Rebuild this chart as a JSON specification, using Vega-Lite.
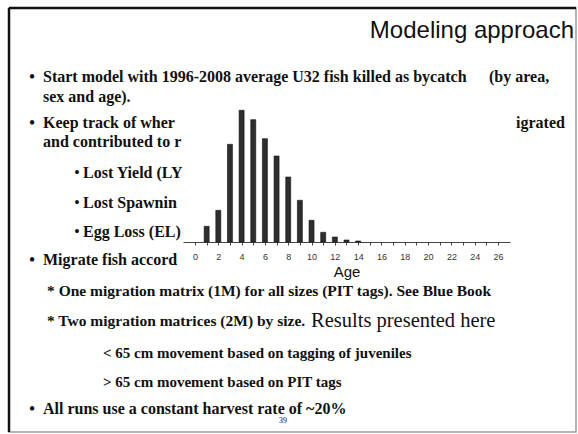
{
  "$schema": "https://vega.github.io/schema/vega-lite/v6.json",
  "width": 327,
  "height": 133,
  "autosize": "none",
  "padding": {"left": 183, "top": 109, "right": 68, "bottom": 192},
  "background": "white",
  "config": {"view": {"stroke": null}},
  "datasets": {
    "bycatch": [
      {"age": 1, "killed": 157},
      {"age": 2, "killed": 317},
      {"age": 3, "killed": 977},
      {"age": 4, "killed": 1317},
      {"age": 5, "killed": 1223},
      {"age": 6, "killed": 1033},
      {"age": 7, "killed": 860},
      {"age": 8, "killed": 650},
      {"age": 9, "killed": 417},
      {"age": 10, "killed": 217},
      {"age": 11, "killed": 97},
      {"age": 12, "killed": 50},
      {"age": 13, "killed": 20},
      {"age": 14, "killed": 10}
    ],
    "slide": [
      {"kind": "title", "text": "Modeling approach", "line": 0, "col": 8},
      {"kind": "bullet", "text": "Start model with 1996-2008 average U32 fish killed as bycatch", "line": 1, "col": 0},
      {"kind": "aside", "text": "(by area,", "line": 1, "col": 4},
      {"kind": "cont", "text": "sex and age).", "line": 2, "col": 0},
      {"kind": "bullet", "text": "Keep track of wher", "line": 3, "col": 0},
      {"kind": "aside", "text": "igrated", "line": 3, "col": 5},
      {"kind": "cont", "text": "and contributed to r", "line": 4, "col": 0},
      {"kind": "sub", "text": "Lost Yield (LY", "line": 5, "col": 1},
      {"kind": "sub", "text": "Lost Spawnin", "line": 6, "col": 1},
      {"kind": "sub", "text": "Egg Loss (EL)", "line": 7, "col": 1},
      {"kind": "bullet", "text": "Migrate fish accord", "line": 8, "col": 0},
      {"kind": "detail", "text": "* One migration matrix (1M) for all sizes (PIT tags). See Blue Book", "line": 9, "col": 2},
      {"kind": "detail", "text": "* Two migration matrices (2M) by size.", "line": 10, "col": 2},
      {"kind": "emph", "text": "Results presented here", "line": 10, "col": 6},
      {"kind": "deep", "text": "< 65 cm movement based on tagging of juveniles", "line": 11, "col": 3},
      {"kind": "deep", "text": "> 65 cm movement based on PIT tags", "line": 12, "col": 3},
      {"kind": "bullet", "text": "All runs use a constant harvest rate of ~20%", "line": 13, "col": 0},
      {"kind": "page", "text": "39", "line": 14, "col": 7}
    ]
  },
  "layer": [
    {
      "data": {"values": [{}]},
      "encoding": {
        "x": {"datum": 0, "type": "quantitative", "scale": {"domain": [0, 1], "range": [-174, 393], "nice": false, "zero": false}, "axis": null},
        "y": {"datum": 0, "type": "quantitative", "scale": {"domain": [0, 1], "range": [-101, 323], "nice": false, "zero": false}, "axis": null}
      },
      "layer": [
        {
          "mark": {"type": "rect", "filled": false, "stroke": "#9a9a9a", "strokeWidth": 1.5},
          "encoding": {"x2": {"datum": 1}, "y2": {"datum": 1}}
        },
        {
          "mark": {"type": "rule", "stroke": "#111", "strokeWidth": 2.5},
          "encoding": {"y2": {"datum": 1}}
        },
        {
          "mark": {"type": "rule", "stroke": "#111", "strokeWidth": 2.5},
          "encoding": {"x2": {"datum": 1}}
        }
      ]
    },
    {
      "data": {"name": "slide"},
      "encoding": {
        "x": {"field": "col", "type": "quantitative", "scale": {"domain": [0, 1, 2, 3, 4, 5, 6, 7, 8], "range": [-140, -100, -136, -80, 306, 333, 128, 100, 391], "nice": false, "zero": false}, "axis": null},
        "y": {"field": "line", "type": "quantitative", "scale": {"domain": [0, 1, 2, 3, 4, 5, 6, 7, 8, 9, 10, 11, 12, 13, 14], "range": [-78, -32, -12, 14, 33, 64, 94, 123, 151, 182, 212, 244, 273, 300, 312], "nice": false, "zero": false}, "axis": null},
        "text": {"field": "text"}
      },
      "layer": [
        {
          "transform": [{"filter": "indexof(['bullet','cont','sub','aside'], datum.kind) >= 0"}],
          "mark": {"type": "text", "align": "left", "baseline": "middle", "font": "Liberation Serif", "fontWeight": "bold", "fontSize": 16, "color": "#111"}
        },
        {
          "transform": [{"filter": "datum.kind === 'detail'"}],
          "mark": {"type": "text", "align": "left", "baseline": "middle", "font": "Liberation Serif", "fontWeight": "bold", "fontSize": 15.5, "color": "#111"}
        },
        {
          "transform": [{"filter": "datum.kind === 'deep'"}],
          "mark": {"type": "text", "align": "left", "baseline": "middle", "font": "Liberation Serif", "fontWeight": "bold", "fontSize": 15, "color": "#111"}
        },
        {
          "transform": [{"filter": "datum.kind === 'bullet'"}],
          "mark": {"type": "text", "align": "center", "baseline": "middle", "font": "Liberation Serif", "fontWeight": "bold", "fontSize": 16, "dx": -11, "color": "#111"},
          "encoding": {"text": {"value": "•"}}
        },
        {
          "transform": [{"filter": "datum.kind === 'sub'"}],
          "mark": {"type": "text", "align": "center", "baseline": "middle", "font": "Liberation Serif", "fontWeight": "bold", "fontSize": 14, "dx": -6, "color": "#111"},
          "encoding": {"text": {"value": "•"}}
        },
        {
          "transform": [{"filter": "datum.kind === 'title'"}],
          "mark": {"type": "text", "align": "right", "baseline": "middle", "font": "Liberation Sans", "fontSize": 24, "color": "#111"}
        },
        {
          "transform": [{"filter": "datum.kind === 'emph'"}],
          "mark": {"type": "text", "align": "left", "baseline": "middle", "font": "Liberation Serif", "fontSize": 20.5, "color": "#111"}
        },
        {
          "transform": [{"filter": "datum.kind === 'page'"}],
          "mark": {"type": "text", "align": "center", "baseline": "middle", "font": "Liberation Serif", "fontSize": 8, "color": "#111"}
        }
      ]
    },
    {
      "data": {"name": "bycatch"},
      "mark": {"type": "bar", "width": 5, "fill": "#2e2e2e", "stroke": "#111", "strokeWidth": 0.6},
      "encoding": {
        "x": {
          "field": "age", "type": "quantitative",
          "scale": {"domain": [-0.6, 26.6], "nice": false, "zero": false},
          "axis": {
            "values": [0, 1, 2, 3, 4, 5, 6, 7, 8, 9, 10, 11, 12, 13, 14, 15, 16, 17, 18, 19, 20, 21, 22, 23, 24, 25, 26],
            "labelExpr": "datum.value % 2 === 0 ? datum.label : ''",
            "grid": false, "domainColor": "#444", "tickColor": "#444", "tickSize": 3,
            "labelFont": "Liberation Sans", "labelFontSize": 9, "labelColor": "#333", "labelPadding": 7,
            "labelOverlap": false, "labelFlush": false,
            "title": "Age", "titleFont": "Liberation Sans", "titleFontSize": 15, "titleFontWeight": "normal", "titleColor": "#111", "titlePadding": 3
          }
        },
        "y": {"field": "killed", "type": "quantitative", "scale": {"domain": [0, 1330], "nice": false}, "axis": null}
      }
    }
  ],
  "resolve": {"scale": {"x": "independent", "y": "independent"}, "axis": {"x": "independent", "y": "independent"}}
}
